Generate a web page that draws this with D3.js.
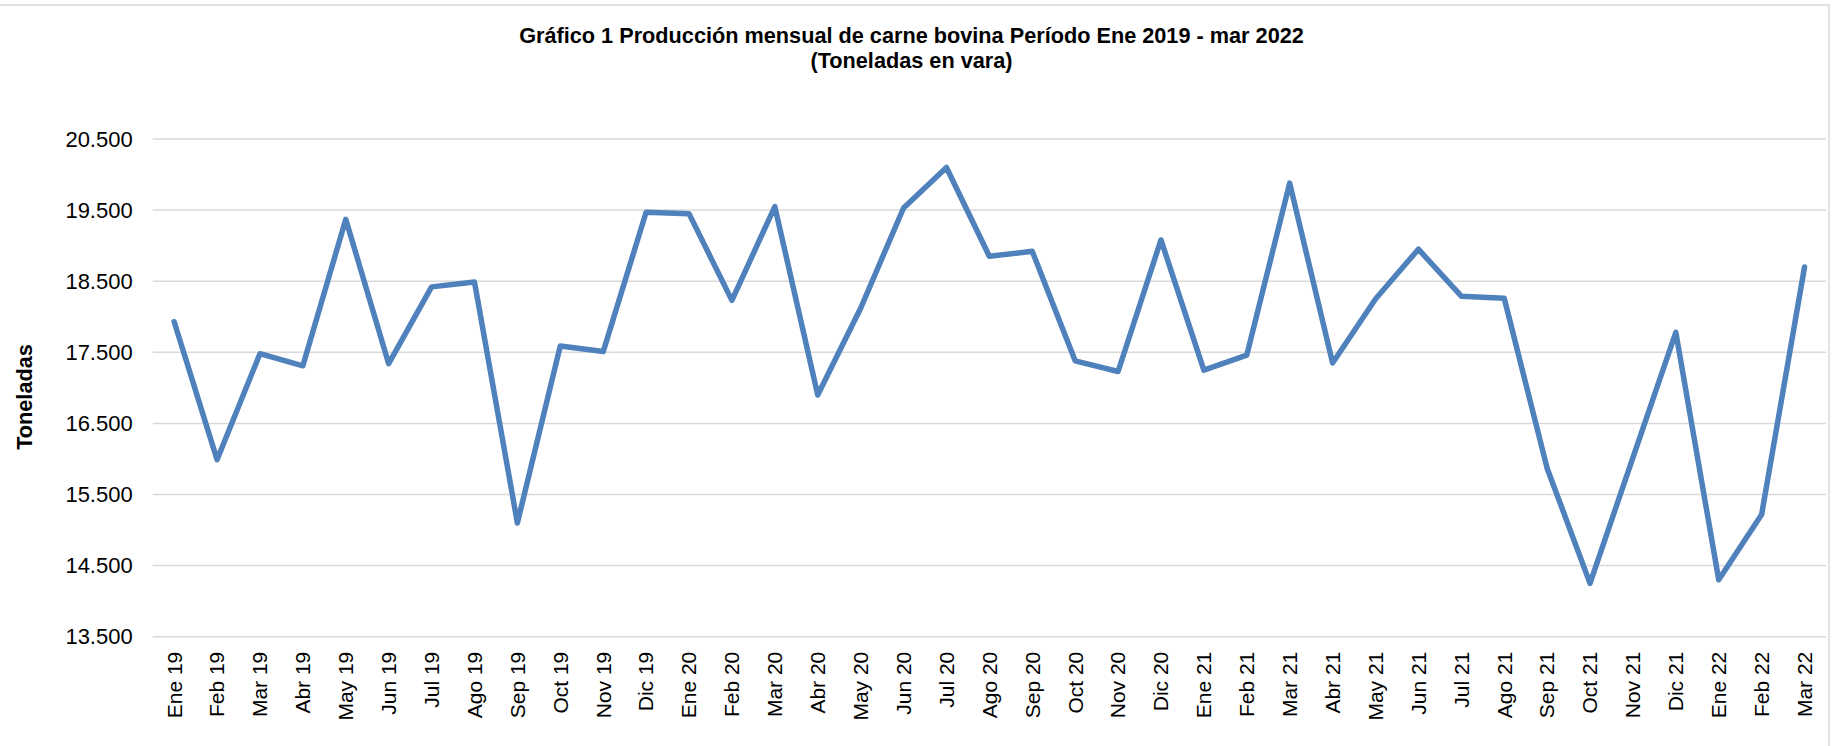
<!DOCTYPE html>
<html>
<head>
<meta charset="utf-8">
<script src="https://cdn.jsdelivr.net/npm/d3@7"></script>
<style>
  html, body { margin: 0; padding: 0; background: #fff; }
  svg { display: block; font-family: "Liberation Sans", Arial, sans-serif; }
</style>
</head>
<body>
<svg id="chart" width="1837" height="746"></svg>
<script>
const months = ["Ene 19","Feb 19","Mar 19","Abr 19","May 19","Jun 19","Jul 19","Ago 19","Sep 19","Oct 19","Nov 19","Dic 19",
                "Ene 20","Feb 20","Mar 20","Abr 20","May 20","Jun 20","Jul 20","Ago 20","Sep 20","Oct 20","Nov 20","Dic 20",
                "Ene 21","Feb 21","Mar 21","Abr 21","May 21","Jun 21","Jul 21","Ago 21","Sep 21","Oct 21","Nov 21","Dic 21",
                "Ene 22","Feb 22","Mar 22"];
const toneladas = [17930,15990,17480,17310,19370,17340,18420,18490,15100,17590,17510,19470,
                   19450,18230,19550,16900,18120,19530,20100,18850,18920,17380,17230,19080,
                   17250,17460,19880,17350,18250,18950,18290,18260,15870,14250,16020,17780,
                   14300,15220,18700];
const yTicks = [13500,14500,15500,16500,17500,18500,19500,20500];
const titleLines = ["Gráfico 1 Producción mensual de carne bovina Período Ene 2019 - mar 2022", "(Toneladas en vara)"];
const yAxisTitle = "Toneladas";

const svg = d3.select("#chart");
const W = 1837, H = 746;
const m = {left: 152.7, right: 1826, top: 139, bottom: 636.7};

// outer chart border
svg.append("rect").attr("x", -2).attr("y", 5).attr("width", 1831).attr("height", 760)
  .attr("fill", "#fff").attr("stroke", "#d9d9d9").attr("stroke-width", 1.5);

const x = d3.scaleBand().domain(months).range([m.left, m.right]);
const y = d3.scaleLinear().domain([13500, 20500]).range([m.bottom, m.top]);

const loc = d3.formatLocale({decimal: ",", thousands: ".", grouping: [3], currency: ["", ""]});
const fmt = loc.format(",.0f");

// gridlines
svg.append("g").selectAll("line").data(yTicks).join("line")
  .attr("x1", m.left).attr("x2", m.right)
  .attr("y1", d => y(d)).attr("y2", d => y(d))
  .attr("stroke", "#d9d9d9").attr("stroke-width", 1.5);

// y axis
const yAxis = svg.append("g").attr("transform", `translate(${m.left},0)`)
  .call(d3.axisLeft(y).tickValues(yTicks).tickFormat(fmt).tickSize(0).tickPadding(20));
yAxis.select(".domain").remove();
yAxis.selectAll("text").attr("font-size", 22).attr("fill", "#000")
  .attr("font-family", "'Liberation Sans', Arial, sans-serif");

// x axis
const xAxis = svg.append("g").attr("transform", `translate(0,${m.bottom})`)
  .call(d3.axisBottom(x).tickSize(0).tickPadding(0));
xAxis.select(".domain").remove();
xAxis.selectAll("text")
  .attr("font-size", 21).attr("fill", "#000")
  .attr("font-family", "'Liberation Sans', Arial, sans-serif")
  .attr("text-anchor", "end")
  .attr("dy", "0.35em")
  .attr("transform", "translate(0,15) rotate(-90)")
  .attr("x", 0).attr("y", 0);

// line
const line = d3.line()
  .x((d, i) => x(months[i]) + x.bandwidth() / 2)
  .y(d => y(d));
svg.append("path").datum(toneladas)
  .attr("d", line)
  .attr("fill", "none")
  .attr("stroke", "#4f81bd")
  .attr("stroke-width", 5.5)
  .attr("stroke-linejoin", "round")
  .attr("stroke-linecap", "round");

// title
svg.append("text").attr("x", 911.5).attr("y", 42.5)
  .attr("text-anchor", "middle").attr("font-weight", "bold").attr("font-size", 21.7)
  .text(titleLines[0]);
svg.append("text").attr("x", 911.5).attr("y", 67.5)
  .attr("text-anchor", "middle").attr("font-weight", "bold").attr("font-size", 21.7)
  .text(titleLines[1]);

// y axis title
svg.append("text")
  .attr("transform", "translate(32,397) rotate(-90)")
  .attr("text-anchor", "middle").attr("font-weight", "bold").attr("font-size", 21.7)
  .text(yAxisTitle);
</script>
</body>
</html>
